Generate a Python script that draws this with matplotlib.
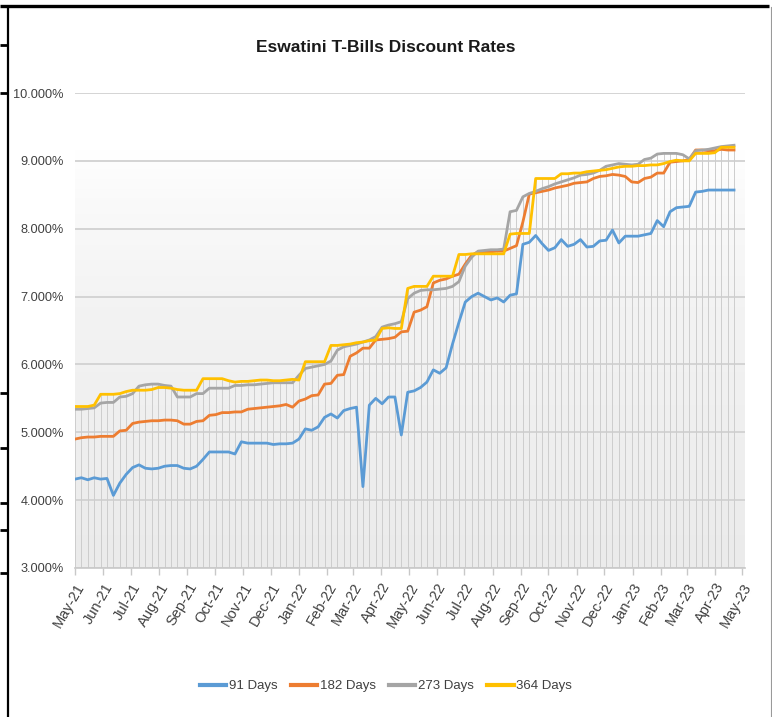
import matplotlib

matplotlib.use("Agg")
import matplotlib.pyplot as plt
import matplotlib.dates as mdates
import numpy as np
import pandas as pd
from matplotlib.colors import LinearSegmentedColormap
from matplotlib.lines import Line2D
from matplotlib.ticker import FuncFormatter

plt.rcParams["font.family"] = ["Liberation Sans", "DejaVu Sans"]

# weekly auction dates, May 2021 - Apr 2023
DATES = pd.date_range("2021-05-03", periods=104, freq="7D")

RATE_91 = [
    4.31, 4.33, 4.30, 4.33, 4.31, 4.32, 4.07, 4.25, 4.38, 4.48,
    4.52, 4.47, 4.46, 4.47, 4.50, 4.51, 4.51, 4.47, 4.46, 4.50,
    4.60, 4.71, 4.71, 4.71, 4.71, 4.68, 4.86, 4.84, 4.84, 4.84,
    4.84, 4.82, 4.83, 4.83, 4.84, 4.90, 5.05, 5.03, 5.08, 5.22,
    5.27, 5.21, 5.32, 5.35, 5.37, 4.20, 5.40, 5.50, 5.42, 5.52,
    5.52, 4.96, 5.59, 5.61, 5.66, 5.74, 5.92, 5.87, 5.95, 6.30,
    6.62, 6.92, 7.00, 7.05, 7.00, 6.95, 6.98, 6.92, 7.02, 7.04,
    7.77, 7.80, 7.90, 7.78, 7.68, 7.72, 7.84, 7.74, 7.77, 7.84,
    7.73, 7.74, 7.82, 7.83, 7.98, 7.79, 7.89, 7.89, 7.89, 7.91,
    7.93, 8.12, 8.03, 8.25, 8.31, 8.32, 8.33, 8.54, 8.55, 8.57,
    8.57, 8.57, 8.57, 8.57,
]
RATE_182 = [
    4.90, 4.92, 4.93, 4.93, 4.94, 4.94, 4.94, 5.02, 5.03, 5.13,
    5.15, 5.16, 5.17, 5.17, 5.18, 5.18, 5.17, 5.12, 5.12, 5.16,
    5.17, 5.25, 5.26, 5.29, 5.29, 5.30, 5.30, 5.34, 5.35, 5.36,
    5.37, 5.38, 5.39, 5.41, 5.37, 5.46, 5.49, 5.54, 5.55, 5.71,
    5.72, 5.84, 5.85, 6.12, 6.17, 6.24, 6.24, 6.36, 6.37, 6.38,
    6.40, 6.48, 6.49, 6.77, 6.80, 6.85, 7.20, 7.24, 7.26, 7.30,
    7.33, 7.48, 7.61, 7.66, 7.66, 7.66, 7.67, 7.67, 7.71, 7.75,
    8.10, 8.51, 8.53, 8.55, 8.57, 8.60, 8.62, 8.64, 8.67, 8.68,
    8.69, 8.74, 8.77, 8.78, 8.80, 8.79, 8.77, 8.69, 8.68, 8.74,
    8.76, 8.82, 8.82, 8.98, 8.99, 9.00, 9.02, 9.16, 9.16, 9.15,
    9.15, 9.17, 9.16, 9.16,
]
RATE_273 = [
    5.34, 5.34, 5.35, 5.36, 5.43, 5.44, 5.44, 5.52, 5.53, 5.57,
    5.68, 5.70, 5.71, 5.71, 5.69, 5.68, 5.52, 5.52, 5.52, 5.57,
    5.57, 5.65, 5.65, 5.65, 5.65, 5.69, 5.69, 5.70, 5.70, 5.71,
    5.72, 5.73, 5.73, 5.73, 5.73, 5.84, 5.94, 5.96, 5.98, 6.00,
    6.05, 6.21, 6.26, 6.28, 6.30, 6.33, 6.36, 6.41, 6.55, 6.58,
    6.60, 6.63, 6.97, 7.05, 7.09, 7.10, 7.10, 7.11, 7.12, 7.15,
    7.22, 7.45, 7.58, 7.67, 7.68, 7.69, 7.69, 7.70, 8.25, 8.27,
    8.47, 8.52, 8.55, 8.59, 8.62, 8.66, 8.69, 8.72, 8.75, 8.79,
    8.80, 8.82, 8.86, 8.92, 8.94, 8.96, 8.95, 8.94, 8.95, 9.02,
    9.04, 9.10, 9.11, 9.11, 9.11, 9.09, 9.03, 9.15, 9.16, 9.17,
    9.19, 9.21, 9.22, 9.23,
]
RATE_364 = [
    5.38, 5.38, 5.38, 5.40, 5.56, 5.56, 5.56, 5.57, 5.60, 5.62,
    5.62, 5.62, 5.63, 5.66, 5.66, 5.65, 5.63, 5.62, 5.62, 5.62,
    5.79, 5.79, 5.79, 5.79, 5.76, 5.74, 5.75, 5.75, 5.76, 5.77,
    5.77, 5.76, 5.76, 5.77, 5.78, 5.77, 6.04, 6.04, 6.04, 6.04,
    6.28, 6.28, 6.29, 6.30, 6.32, 6.33, 6.35, 6.36, 6.53, 6.54,
    6.53, 6.53, 7.12, 7.15, 7.15, 7.15, 7.30, 7.30, 7.30, 7.30,
    7.62, 7.62, 7.63, 7.63, 7.63, 7.63, 7.63, 7.63, 7.92, 7.93,
    7.93, 7.93, 8.74, 8.74, 8.74, 8.74, 8.81, 8.81, 8.82, 8.82,
    8.84, 8.85, 8.86, 8.87, 8.89, 8.91, 8.92, 8.92, 8.93, 8.93,
    8.94, 8.94, 8.96, 8.99, 9.01, 9.00, 9.00, 9.11, 9.11, 9.11,
    9.12, 9.20, 9.20, 9.20,
]

SERIES = [
    ("91 Days", RATE_91, "#5B9BD5"),
    ("182 Days", RATE_182, "#ED7D31"),
    ("273 Days", RATE_273, "#A5A5A5"),
    ("364 Days", RATE_364, "#FFC000"),
]

W, H = 772, 717


def fx(px):
    return px / W


def fy(py):
    return 1 - py / H


fig = plt.figure(figsize=(W / 100, H / 100), dpi=100)
fig.patch.set_facecolor("white")
ax = fig.add_axes([fx(75), fy(568), fx(745) - fx(75), fy(93) - fy(568)])

x0 = pd.Timestamp("2021-05-03")
x1 = pd.Timestamp("2023-05-06")
ax.set_xlim(x0, x1)
ax.set_ylim(3, 10)

# plot-area fill: white at the top fading to light grey at the bottom
grad = LinearSegmentedColormap.from_list(
    "bg", [(0, "#ebebeb"), (0.55, "#f3f3f3"), (0.78, "#fafafa"), (0.88, "#ffffff"), (1, "#ffffff")])
ramp = np.linspace(0, 1, 256).reshape(-1, 1)
ax.imshow(ramp, cmap=grad, origin="lower", aspect="auto",
          extent=[mdates.date2num(x0), mdates.date2num(x1), 3, 10], zorder=0)

ax.set_yticks(np.arange(3, 10.5, 1))
ax.yaxis.set_major_formatter(FuncFormatter(lambda v, _: f"{v:.3f}%"))
ax.grid(axis="y", color="#d4d4d4", linewidth=1.4, zorder=1)

# drop lines from the highest series down to the axis
top = np.max(np.array([s[1] for s in SERIES]), axis=0)
ax.vlines(DATES, 3, top, color="#cdcdcd", linewidth=0.7, zorder=2)

for label, vals, color in SERIES:
    ax.plot(DATES, vals, color=color, linewidth=2.0, label=label, zorder=3,
            solid_joinstyle="round")

ticks = pd.date_range("2021-05-01", "2023-05-01", freq="MS") + pd.Timedelta(days=2)
ax.set_xticks(ticks)
ax.xaxis.set_major_formatter(mdates.DateFormatter("%b-%y"))
for lbl in ax.get_xticklabels():
    lbl.set_rotation(60)
    lbl.set_ha("right")
    lbl.set_va("top")
    lbl.set_rotation_mode("anchor")

for side in ["top", "right", "left"]:
    ax.spines[side].set_visible(False)
ax.spines["bottom"].set_color("#c8c8c8")
ax.spines["bottom"].set_linewidth(1.2)
ax.tick_params(axis="x", length=5, width=1, color="#c8c8c8", labelsize=10.5,
               labelcolor="#404040", pad=4)
ax.tick_params(axis="y", length=0, labelsize=9.2, labelcolor="#404040", pad=8)

fig.text(0.5, fy(47), "Eswatini T-Bills Discount Rates", ha="center", va="center",
         fontsize=12.5, fontweight="bold", color="#1a1a1a")

handles = [Line2D([], [], color=c, linewidth=3) for _, _, c in SERIES]
fig.legend(handles, [s[0] for s in SERIES], loc="center", bbox_to_anchor=(0.5, fy(686)),
           ncol=4, frameon=False, fontsize=9.5, handlelength=2.0, handletextpad=0.2,
           columnspacing=1.0, labelcolor="#404040")

# page border left over from the source document
edge = dict(color="black", transform=fig.transFigure, solid_capstyle="butt")
fig.add_artist(Line2D([0, fx(769)], [fy(6), fy(6)], linewidth=2.4, **edge))
fig.add_artist(Line2D([fx(8), fx(8)], [fy(6), 0], linewidth=1.6, **edge))
fig.add_artist(Line2D([fx(770.5), fx(770.5)], [fy(7), 0], linewidth=0.8, color="#9a9a9a",
                      transform=fig.transFigure))
for py in [45, 93, 393, 448, 503, 530, 573]:
    fig.add_artist(Line2D([0, fx(8)], [fy(py), fy(py)], linewidth=2.0, **edge))

fig.savefig("out.png", dpi=100)
